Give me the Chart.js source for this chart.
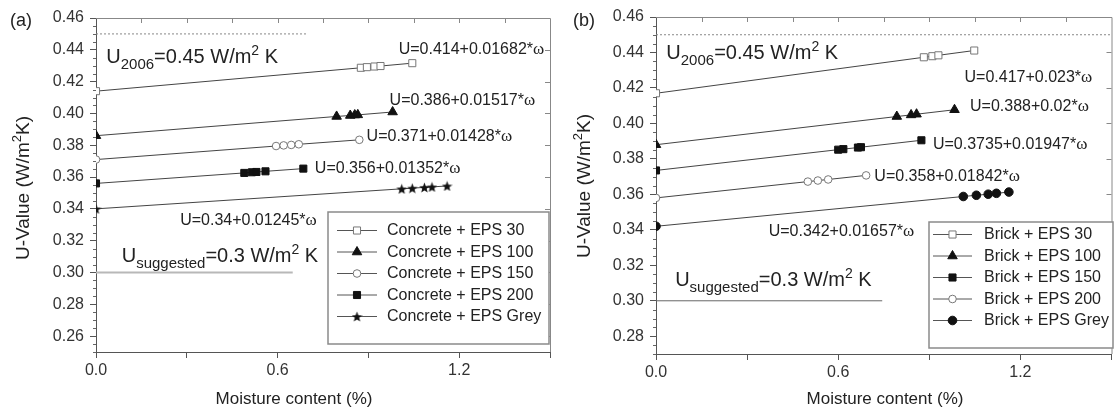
<!DOCTYPE html>
<html>
<head>
<meta charset="utf-8">
<script src="https://cdn.jsdelivr.net/npm/chart.js@4.4.1/dist/chart.umd.min.js"></script>
<style>
	html, body { margin: 0; padding: 0; background: #fff; }
	#wrap { position: relative; width: 1118px; height: 408px; overflow: hidden; }
	.panel { position: absolute; top: 0; height: 408px; }
	#pa { left: 0; width: 558px; }
	#pb { left: 558px; width: 560px; }
</style>
</head>
<body>
<div id="wrap">
	<div class="panel" id="pa"><canvas id="chartA" width="558" height="408"></canvas></div>
	<div class="panel" id="pb"><canvas id="chartB" width="560" height="408"></canvas></div>
</div>
<script>
// ---- data ----
// (a) concrete walls
const concreteLabels = ["Concrete + EPS 30", "Concrete + EPS 100", "Concrete + EPS 150", "Concrete + EPS 200", "Concrete + EPS Grey"];
const concEps30X = [0, 0.875, 0.895, 0.92, 0.94, 1.045];
const concEps30Y = [0.414, 0.4287, 0.4291, 0.4295, 0.4298, 0.4316];
const concEps100X = [0, 0.795, 0.84, 0.855, 0.865, 0.98];
const concEps100Y = [0.386, 0.3981, 0.3987, 0.399, 0.3991, 0.4009];
const concEps150X = [0, 0.595, 0.62, 0.645, 0.67, 0.87];
const concEps150Y = [0.371, 0.3795, 0.3799, 0.3802, 0.3806, 0.3834];
const concEps200X = [0, 0.49, 0.515, 0.53, 0.56, 0.685];
const concEps200Y = [0.356, 0.3626, 0.363, 0.3632, 0.3636, 0.3653];
const concGreyX = [0, 1.01, 1.045, 1.085, 1.11, 1.16];
const concGreyY = [0.34, 0.3526, 0.353, 0.3535, 0.3538, 0.3544];
const concFits = ["U=0.414+0.01682*", "U=0.386+0.01517*", "U=0.371+0.01428*", "U=0.356+0.01352*", "U=0.34+0.01245*"];
const concU2006X = [0, 0.70];
const concUSuggX = [0, 0.65];

// (b) brick walls
const brickLabels = ["Brick + EPS 30", "Brick + EPS 100", "Brick + EPS 150", "Brick + EPS 200", "Brick + EPS Grey"];
const brickEps30X = [0, 0.882, 0.91, 0.93, 1.048];
const brickEps30Y = [0.417, 0.4373, 0.4379, 0.4384, 0.4411];
const brickEps100X = [0, 0.793, 0.84, 0.858, 0.983];
const brickEps100Y = [0.388, 0.4039, 0.4048, 0.4052, 0.4077];
const brickEps150X = [0, 0.6, 0.617, 0.665, 0.675, 0.874];
const brickEps150Y = [0.3735, 0.3852, 0.3855, 0.3864, 0.3866, 0.3905];
const brickEps200X = [0, 0.5, 0.533, 0.567, 0.692];
const brickEps200Y = [0.358, 0.3672, 0.3678, 0.3684, 0.3707];
const brickGreyX = [0, 1.012, 1.055, 1.094, 1.121, 1.162];
const brickGreyY = [0.342, 0.3588, 0.3595, 0.3601, 0.3606, 0.3613];
const brickFits = ["U=0.417+0.023*", "U=0.388+0.02*", "U=0.3735+0.01947*", "U=0.358+0.01842*", "U=0.342+0.01657*"];
const brickU2006X = [0, 1.5];
const brickUSuggX = [0, 0.745];

const u2006 = 0.45;
const uSuggested = 0.3;
const xTicks = [0, 0.3, 0.6, 0.9, 1.2, 1.5];

// ---- helpers ----
const SANS = '"Liberation Sans", Arial, Helvetica, sans-serif';
const SERIF = '"Liberation Serif", "Times New Roman", serif';
const TEXT = "#222";

const pts = (xs, ys) => xs.map((x, i) => ({ x: x, y: ys[i] }));

const makeStar = (size, color) => {
	const c = document.createElement("canvas");
	c.width = c.height = size;
	const g = c.getContext("2d");
	const R = size / 2, r = R * 0.42;
	g.beginPath();
	for (let i = 0; i < 10; i++) {
		const a = -Math.PI / 2 + (i * Math.PI) / 5;
		const rad = i % 2 ? r : R;
		g.lineTo(R + rad * Math.cos(a), R + 0.6 + rad * Math.sin(a));
	}
	g.closePath();
	g.fillStyle = color;
	g.fill();
	return c;
};

const starImg = makeStar(11, "#111");

// marker look per series slot
const markers = {
	openSquare: { pointStyle: "rect", pointRadius: 5, pointBackgroundColor: "#fff", pointBorderColor: "#777" },
	triangle: { pointStyle: "triangle", pointRadius: 5.5, pointBackgroundColor: "#111", pointBorderColor: "#111" },
	openCircle: { pointStyle: "circle", pointRadius: 3.8, pointBackgroundColor: "#fff", pointBorderColor: "#777" },
	square: { pointStyle: "rect", pointRadius: 5, pointBackgroundColor: "#111", pointBorderColor: "#111" },
	star: { pointStyle: starImg, pointRadius: 5, pointBackgroundColor: "#111", pointBorderColor: "#111" },
	dot: { pointStyle: "circle", pointRadius: 4.3, pointBackgroundColor: "#111", pointBorderColor: "#111" },
};

const series = (label, xs, ys, m) => Object.assign({
	label: label,
	data: pts(xs, ys),
	showLine: true,
	borderColor: "#444",
	borderWidth: 1,
	pointBorderWidth: 1,
	pointHoverRadius: 5,
}, m);

const refLine = (xs, y, color, width, dash) => ({
	label: "_ref",
	data: xs.map((x) => ({ x: x, y: y })),
	showLine: true,
	borderColor: color,
	borderWidth: width,
	borderDash: dash,
	pointRadius: 0,
});

// draws text made of runs (sub/superscripts), left aligned unless align = "center"
const richText = (ctx, x, y, runs, align) => {
	let total = 0;
	runs.forEach((r) => {
		ctx.font = `${r.size}px ${r.family || SANS}`;
		r.w = ctx.measureText(r.t).width;
		total += r.w;
	});
	let cx = align === "center" ? x - total / 2 : x;
	ctx.textAlign = "left";
	runs.forEach((r) => {
		ctx.font = `${r.size}px ${r.family || SANS}`;
		ctx.fillText(r.t, cx, y + (r.dy || 0));
		cx += r.w;
	});
};

const uLabel = (sub, rest, big, small) => [
	{ t: "U", size: big },
	{ t: sub, size: small, dy: 6 },
	{ t: rest, size: big },
	{ t: "2", size: small - 1, dy: -8 },
	{ t: " K", size: big },
];

const fitLabel = (txt) => [
	{ t: txt, size: 16 },
	{ t: "\u03c9", size: 17, family: SERIF },
];

const decor = {
	id: "decor",
	afterDraw(chart, args, opts) {
		const { ctx, chartArea: a, scales } = chart;
		const xs = scales.x, ys = scales.y;
		ctx.save();

		// frame top / right with inward mirror ticks
		ctx.strokeStyle = "#888";
		ctx.lineWidth = 1;
		ctx.beginPath();
		ctx.moveTo(a.left, a.top + 0.5);
		ctx.lineTo(a.right + 0.5, a.top + 0.5);
		ctx.lineTo(a.right + 0.5, a.bottom);
		for (let v = 0.15; v < xs.max - 1e-6; v += 0.15) {
			const px = Math.round(xs.getPixelForValue(v)) + 0.5;
			ctx.moveTo(px, a.top);
			ctx.lineTo(px, a.top + 5);
		}
		for (let k = Math.ceil(ys.min / 0.02); k * 0.02 < ys.max - 1e-6; k++) {
			const py = Math.round(ys.getPixelForValue(k * 0.02)) + 0.5;
			ctx.moveTo(a.right, py);
			ctx.lineTo(a.right - 5, py);
		}
		ctx.stroke();

		// minor ticks on the left axis
		ctx.strokeStyle = "#666";
		ctx.beginPath();
		for (let k = Math.ceil(ys.min / 0.005); k * 0.005 <= ys.max + 1e-6; k++) {
			if (k % 4 === 0) continue;
			const py = Math.round(ys.getPixelForValue(k * 0.005)) + 0.5;
			ctx.moveTo(a.left, py);
			ctx.lineTo(a.left - 3, py);
		}
		ctx.stroke();

		ctx.fillStyle = TEXT;
		ctx.textBaseline = "alphabetic";

		// reference value labels and fitted equations
		opts.notes.forEach((n) => {
			richText(ctx, xs.getPixelForValue(n.x), ys.getPixelForValue(n.y), n.runs);
		});

		// panel letter
		ctx.textBaseline = "middle";
		ctx.font = `18px ${SANS}`;
		ctx.textAlign = "left";
		ctx.fillText(opts.letter, opts.letterX, 21);

		// axis titles
		ctx.font = `17px ${SANS}`;
		ctx.textAlign = "center";
		ctx.fillText("Moisture content (%)", opts.xTitleX, 399);
		ctx.save();
		ctx.translate(opts.yTitleX, opts.yTitleY);
		ctx.rotate(-Math.PI / 2);
		richText(ctx, 0, 0, [
			{ t: "U-Value (W/m", size: 19 },
			{ t: "2", size: 13, dy: -7 },
			{ t: "K)", size: 19 },
		], "center");
		ctx.restore();

		// legend box
		const L = opts.legend;
		ctx.fillStyle = "#fff";
		ctx.fillRect(L.x, L.y, L.w, L.h);
		ctx.strokeStyle = "#8a8a8a";
		ctx.lineWidth = 1.5;
		ctx.strokeRect(L.x, L.y, L.w, L.h);
		const entries = chart.data.datasets.filter((d) => d.label !== "_ref");
		entries.forEach((d, i) => {
			const y = L.row0 + i * L.rowStep;
			ctx.strokeStyle = "#555";
			ctx.lineWidth = 1;
			ctx.beginPath();
			ctx.moveTo(L.lineX0, y + 0.5);
			ctx.lineTo(L.lineX1, y + 0.5);
			ctx.stroke();
			ctx.fillStyle = d.pointBackgroundColor;
			ctx.strokeStyle = d.pointBorderColor;
			Chart.helpers.drawPoint(ctx, {
				pointStyle: d.pointStyle,
				radius: d.pointRadius,
				rotation: 0,
				borderWidth: 1,
			}, (L.lineX0 + L.lineX1) / 2, y + 0.5);
			ctx.fillStyle = TEXT;
			ctx.font = `16px ${SANS}`;
			ctx.textAlign = "left";
			ctx.textBaseline = "middle";
			ctx.fillText(d.label, L.textX, y + 1);
		});

		ctx.restore();
	},
};

const makeOptions = (yMin, pad, yWidth, xHeight, decorOpts) => ({
	responsive: false,
	animation: false,
	layout: { padding: pad },
	plugins: {
		legend: { display: false },
		tooltip: { enabled: false },
		decor: decorOpts,
	},
	scales: {
		x: {
			type: "linear",
			min: 0,
			max: 1.5,
			afterBuildTicks: (s) => { s.ticks = xTicks.map((v) => ({ value: v })); },
			afterFit: (s) => { s.height = xHeight; },
			ticks: {
				autoSkip: false,
				maxRotation: 0,
				padding: 3,
				color: "#333",
				font: { family: SANS, size: 16 },
				callback: (v) => (Math.abs(v / 0.6 - Math.round(v / 0.6)) < 1e-6 ? v.toFixed(1) : ""),
			},
			grid: { drawOnChartArea: false, tickLength: 6, color: "#555" },
			border: { color: "#555", width: 1 },
		},
		y: {
			type: "linear",
			min: yMin,
			max: 0.46,
			afterBuildTicks: (s) => {
				const t = [];
				for (let k = Math.ceil(yMin / 0.02 - 1e-6); k * 0.02 <= 0.46 + 1e-6; k++) t.push({ value: +(k * 0.02).toFixed(2) });
				s.ticks = t;
			},
			afterFit: (s) => { s.width = yWidth; },
			ticks: {
				autoSkip: false,
				padding: 6,
				color: "#333",
				font: { family: SANS, size: 16 },
				callback: (v) => v.toFixed(2),
			},
			grid: { drawOnChartArea: false, tickLength: 6, color: "#555" },
			border: { color: "#555", width: 1 },
		},
	},
});

// ---- panel (a) ----
new Chart(document.getElementById("chartA"), {
	type: "scatter",
	data: {
		datasets: [
			series(concreteLabels[0], concEps30X, concEps30Y, markers.openSquare),
			series(concreteLabels[1], concEps100X, concEps100Y, markers.triangle),
			series(concreteLabels[2], concEps150X, concEps150Y, markers.openCircle),
			series(concreteLabels[3], concEps200X, concEps200Y, markers.square),
			series(concreteLabels[4], concGreyX, concGreyY, markers.star),
			refLine(concU2006X, u2006, "#888", 1, [2, 2]),
			refLine(concUSuggX, uSuggested, "#b8b8b8", 2, []),
		],
	},
	options: makeOptions(0.25, { left: 0, top: 18, right: 8, bottom: 0 }, 96, 56, {
		letter: "(a)",
		letterX: 10,
		xTitleX: 294,
		yTitleX: 24,
		yTitleY: 188,
		notes: [
			{ x: 0.034, y: 0.4319, runs: uLabel("2006", "=0.45 W/m", 20, 15) },
			{ x: 0.085, y: 0.3065, runs: uLabel("suggested", "=0.3 W/m", 20, 15) },
			{ x: 1.0, y: 0.4375, runs: fitLabel(concFits[0]) },
			{ x: 0.97, y: 0.4054, runs: fitLabel(concFits[1]) },
			{ x: 0.894, y: 0.3827, runs: fitLabel(concFits[2]) },
			{ x: 0.723, y: 0.3626, runs: fitLabel(concFits[3]) },
			{ x: 0.278, y: 0.3298, runs: fitLabel(concFits[4]) },
		],
		legend: { x: 328, y: 212, w: 221, h: 132, row0: 230, rowStep: 21.5, lineX0: 337, lineX1: 377, textX: 387 },
	}),
	plugins: [decor],
});

// ---- panel (b) ----
new Chart(document.getElementById("chartB"), {
	type: "scatter",
	data: {
		datasets: [
			series(brickLabels[0], brickEps30X, brickEps30Y, markers.openSquare),
			series(brickLabels[1], brickEps100X, brickEps100Y, markers.triangle),
			series(brickLabels[2], brickEps150X, brickEps150Y, markers.square),
			series(brickLabels[3], brickEps200X, brickEps200Y, markers.openCircle),
			series(brickLabels[4], brickGreyX, brickGreyY, markers.dot),
			refLine(brickU2006X, u2006, "#888", 1, [2, 2]),
			refLine(brickUSuggX, uSuggested, "#666", 1, []),
		],
	},
	options: makeOptions(0.27, { left: 0, top: 17, right: 1, bottom: 0 }, 98, 54, {
		letter: "(b)",
		letterX: 15,
		xTitleX: 327,
		yTitleX: 27,
		yTitleY: 186,
		notes: [
			{ x: 0.034, y: 0.4362, runs: uLabel("2006", "=0.45 W/m", 20, 15) },
			{ x: 0.063, y: 0.3083, runs: uLabel("suggested", "=0.3 W/m", 20, 15) },
			{ x: 1.016, y: 0.4232, runs: fitLabel(brickFits[0]) },
			{ x: 1.034, y: 0.4069, runs: fitLabel(brickFits[1]) },
			{ x: 0.912, y: 0.3853, runs: fitLabel(brickFits[2]) },
			{ x: 0.719, y: 0.3674, runs: fitLabel(brickFits[3]) },
			{ x: 0.371, y: 0.3365, runs: fitLabel(brickFits[4]) },
		],
		legend: { x: 371, y: 222, w: 184, h: 126, row0: 234, rowStep: 21.5, lineX0: 375, lineX1: 414, textX: 426 },
	}),
	plugins: [decor],
});
</script>
</body>
</html>
